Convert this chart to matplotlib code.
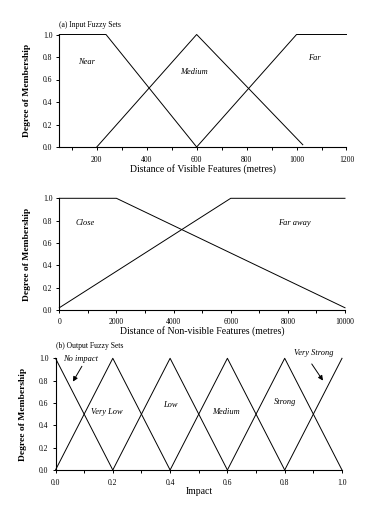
import matplotlib
matplotlib.use("Agg")
import matplotlib.pyplot as plt

# ---- data ----
# (a) visible features (metres)
vis_near_x = [50, 237, 600]
vis_near_y = [1.0, 1.0, 0.0]
vis_med_x = [200, 600, 1025]
vis_med_y = [0.0, 1.0, 0.02]
vis_far_x = [600, 1000, 1200]
vis_far_y = [0.0, 1.0, 1.0]

# non-visible features (metres)
nv_close_x = [0, 2000, 10000]
nv_close_y = [1.0, 1.0, 0.02]
nv_faraway_x = [0, 6000, 10000]
nv_faraway_y = [0.02, 1.0, 1.0]

# (b) output fuzzy sets
imp_noimpact_x = [0.0, 0.2]
imp_noimpact_y = [1.0, 0.0]
imp_verylow_x = [0.0, 0.2, 0.4]
imp_low_x = [0.2, 0.4, 0.6]
imp_medium_x = [0.4, 0.6, 0.8]
imp_strong_x = [0.6, 0.8, 1.0]
imp_tri_y = [0.0, 1.0, 0.0]
imp_verystrong_x = [0.8, 1.0]
imp_verystrong_y = [0.0, 1.0]

y_ticks = [0.0, 0.2, 0.4, 0.6, 0.8, 1.0]
y_ticklabels = ["0.0", "0.2", "0.4", "0.6", "0.8", "1.0"]
vis_ticks = [200, 400, 600, 800, 1000, 1200]
vis_minor = [100, 300, 500, 700, 900, 1100]
nv_ticks = [0, 2000, 4000, 6000, 8000, 10000]
nv_minor = [1000, 3000, 5000, 7000, 9000]
imp_ticks = [0.0, 0.2, 0.4, 0.6, 0.8, 1.0]
imp_ticklabels = ["0.0", "0.2", "0.4", "0.6", "0.8", "1.0"]
imp_minor = [0.1, 0.3, 0.5, 0.7, 0.9]

FONT = "Liberation Serif"
plt.rcParams["font.family"] = [FONT, "DejaVu Serif"]

W, H = 376, 520
fig = plt.figure(figsize=(W / 100, H / 100), dpi=100)

def px_axes(left, right, top, bottom):
    return fig.add_axes([left / W, 1 - bottom / H, (right - left) / W, (bottom - top) / H])

ax1 = px_axes(59.3, 346.5, 34.5, 147.0)
ax2 = px_axes(59.3, 345.0, 198.3, 310.0)
ax3 = px_axes(55.5, 342.0, 358.3, 470.0)

LW = 0.7

def style(ax, xlim, xticks, xminor, xlabels, xlabel, xlab_off, ylab_off, xpad=4.2):
    ax.set_xlim(*xlim)
    ax.set_ylim(0, 1.0)
    for s in ("top", "right"):
        ax.spines[s].set_visible(False)
    for s in ("left", "bottom"):
        ax.spines[s].set_linewidth(0.8)
    ax.set_xticks(xticks)
    ax.set_xticks(xminor, minor=True)
    if xlabels is not None:
        ax.set_xticklabels(xlabels)
    ax.set_yticks(y_ticks)
    ax.set_yticklabels(y_ticklabels)
    ax.tick_params(axis="both", which="both", direction="out", length=2.5, width=0.7,
                   labelsize=5.5, pad=2.5)
    ax.tick_params(axis="x", which="major", pad=xpad)
    ax.tick_params(axis="y", which="minor", length=0)
    ax.set_xlabel(xlabel, fontsize=7)
    ax.xaxis.label.set_va("center")
    ax.xaxis.set_label_coords(0.5, xlab_off)
    ax.set_ylabel("Degree of Membership", fontsize=6.8, fontweight="bold")
    ax.yaxis.label.set_va("center")
    ax.yaxis.set_label_coords(ylab_off, 0.5)

# ---- panel 1 ----
ax1.plot(vis_near_x, vis_near_y, color="black", lw=LW, clip_on=False)
ax1.plot(vis_med_x, vis_med_y, color="black", lw=LW, clip_on=False)
ax1.plot(vis_far_x, vis_far_y, color="black", lw=LW, clip_on=False)
style(ax1, (50, 1200), vis_ticks, vis_minor, None,
      "Distance of Visible Features (metres)", -22.3 / 112.5, -32.3 / 287)
lab = dict(fontsize=6, style="italic", ha="center", va="center")
ax1.text(160, 0.76, "Near", **lab)
ax1.text(590, 0.67, "Medium", **lab)
ax1.text(1073, 0.79, "Far", **lab)
ax1.text(0.0, 1.085, "(a) Input Fuzzy Sets", transform=ax1.transAxes, fontsize=5.5,
         ha="left", va="center")

# ---- panel 2 ----
ax2.plot(nv_close_x, nv_close_y, color="black", lw=LW, clip_on=False)
ax2.plot(nv_faraway_x, nv_faraway_y, color="black", lw=LW, clip_on=False)
style(ax2, (0, 10000), nv_ticks, nv_minor, None,
      "Distance of Non-visible Features (metres)", -21.0 / 112, -32.3 / 286, xpad=3.2)
ax2.text(900, 0.78, "Close", **lab)
ax2.text(8215, 0.78, "Far away", **lab)

# ---- panel 3 ----
ax3.plot(imp_noimpact_x, imp_noimpact_y, color="black", lw=LW, clip_on=False)
for xs in (imp_verylow_x, imp_low_x, imp_medium_x, imp_strong_x):
    ax3.plot(xs, imp_tri_y, color="black", lw=LW, clip_on=False)
ax3.plot(imp_verystrong_x, imp_verystrong_y, color="black", lw=LW, clip_on=False)
style(ax3, (0, 1.0), imp_ticks, imp_minor, imp_ticklabels,
      "Impact", -21.7 / 112, -32.8 / 286.5)
ax3.text(0.18, 0.52, "Very Low", **lab)
ax3.text(0.40, 0.58, "Low", **lab)
ax3.text(0.595, 0.52, "Medium", **lab)
ax3.text(0.80, 0.61, "Strong", **lab)
arr = dict(arrowstyle="-|>", color="black", lw=0.7, mutation_scale=7)
ax3.annotate("", xy=(0.056, 0.77), xytext=(0.097, 0.95), arrowprops=arr)
ax3.annotate("", xy=(0.939, 0.78), xytext=(0.889, 0.97), arrowprops=arr)
ax3.text(0.088, 0.995, "No impact", **lab)
ax3.text(0.90, 1.045, "Very Strong", **lab)
ax3.text(0.0, 1.11, "(b) Output Fuzzy Sets", transform=ax3.transAxes, fontsize=5.5,
         ha="left", va="center")

fig.savefig("out.png", dpi=100)
